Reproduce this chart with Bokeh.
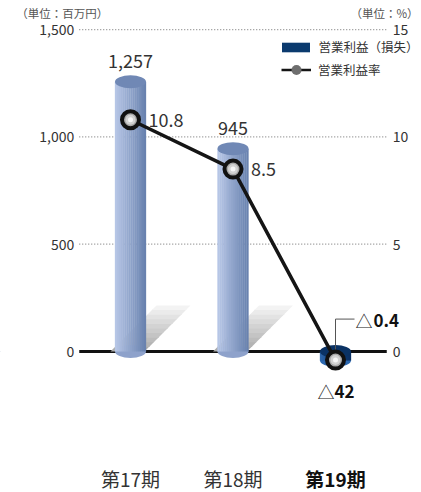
from bokeh.plotting import figure
from bokeh.models import Range1d, Legend, LegendItem
from bokeh.core.properties import value
from bokeh.embed import file_html
from bokeh.resources import INLINE

# ---------------- data ----------------
categories = ["第17期", "第18期", "第19期"]
operating_income = [1257, 945, -42]      # 百万円
operating_margin = [10.8, 8.5, -0.4]     # %
income_ticks = [0, 500, 1000, 1500]
margin_ticks = [0, 5, 10, 15]
legend_labels = ["営業利益（損失）", "営業利益率"]
unit_left = "（単位：百万円）"
unit_right = "（単位：%）"

# ---------------- layout / style ----------------
FONT = "Noto Sans CJK JP"
W, H = 421, 492
PXX = 102.5                      # px per category step
X0 = -0.5 - 78.75 / PXX
X1 = X0 + W / PXX
PXY = 107.3 / 500                # px per 百万円
ZERO_PX = 351                    # zero line, from top
Y1 = ZERO_PX / PXY
Y0 = -(H - ZERO_PX) / PXY
RATE_SCALE = 100.0
PXR = PXY * RATE_SCALE           # px per %
BAR_PX = 31
BAR_W = BAR_PX / PXX
N_SLICES = 16

idx = list(range(len(categories)))
GX0, GX1 = -0.5, len(categories) - 0.5   # plot band edges


def hex2rgb(h):
    h = h.lstrip("#")
    return tuple(int(h[i:i + 2], 16) for i in (0, 2, 4))


def lerp(c1, c2, t):
    a, b = hex2rgb(c1), hex2rgb(c2)
    return "#%02x%02x%02x" % tuple(round(a[k] + (b[k] - a[k]) * t) for k in range(3))


def grad3(c1, c2, c3, t):
    return lerp(c1, c2, t * 2) if t < 0.5 else lerp(c2, c3, (t - 0.5) * 2)


p = figure(width=W, height=H, x_range=Range1d(X0, X1), y_range=Range1d(Y0, Y1),
           output_backend="svg", toolbar_location=None,
           x_axis_location=None, y_axis_location=None,
           min_border=0, outline_line_color=None, background_fill_color="white")
p.grid.visible = False
p.extra_y_ranges = {"rate": Range1d(Y0 / RATE_SCALE, Y1 / RATE_SCALE)}

# dotted grid lines + tick labels (left: 百万円, right: %)
grid_t = [t for t in income_ticks if t != 0]
p.segment(x0=[GX0] * len(grid_t), x1=[GX1] * len(grid_t), y0=grid_t, y1=grid_t,
          line_color="#8a8a8a", line_width=1.2, line_dash="1 2")
p.text(x=[GX0] * len(income_ticks), y=income_ticks, text=[f"{t:,}" for t in income_ticks],
       x_offset=-5, text_align="right", text_baseline="middle", text_font=value(FONT),
       text_font_size="14px", text_color="#333333")
p.text(x=[GX1] * len(margin_ticks), y=margin_ticks, y_range_name="rate",
       text=[f"{t}" for t in margin_ticks], x_offset=6, text_align="left",
       text_baseline="middle", text_font=value(FONT), text_font_size="14px",
       text_color="#333333")

# zero line
p.segment(x0=[GX0], x1=[GX1], y0=[0], y1=[0], line_color="#111111", line_width=3)

# shadows behind the positive bars
SH_H = 46
N_BANDS = 10
for k in range(N_BANDS):
    h0 = SH_H * k / N_BANDS
    h1 = min(SH_H, SH_H * (k + 1) / N_BANDS + 0.8)
    xs, ys = [], []
    for i, v in zip(idx, operating_income):
        if v <= 0:
            continue
        xs.append([i + (-20 + h0) / PXX, i + (14 + h0) / PXX,
                   i + (14 + h1) / PXX, i + (-20 + h1) / PXX])
        ys.append([h0 / PXY, h0 / PXY, h1 / PXY, h1 / PXY])
    col = lerp("#acacac", "#f3f3f3", k / (N_BANDS - 1))
    p.patches(xs=xs, ys=ys, fill_color=col, line_color=None)

# lower ellipses of the cylinders
low_y = [min(0, v) for v in operating_income]
high_y = [max(0, v) for v in operating_income]
low_col = ["#8ea2cb" if v >= 0 else "#2c68b0" for v in operating_income]
high_col = ["#7088b5" if v >= 0 else "#0a3264" for v in operating_income]
p.ellipse(x=idx, y=low_y, width=BAR_W, height=13, height_units="screen",
          fill_color=low_col, line_color=None)

# cylinder bodies: horizontal gradient of thin slices
for j in range(N_SLICES):
    t = (j + 0.5) / N_SLICES
    off = -BAR_W / 2 + t * BAR_W
    cols = [lerp("#b9c8e8", "#6680ad", t) if v >= 0 else grad3("#2e66aa", "#0e3e7c", "#0a2f62", t)
            for v in operating_income]
    p.vbar(x=[i + off for i in idx], bottom=low_y, top=high_y,
           width=BAR_W / N_SLICES * 1.15, fill_color=cols, line_color=None)

# top caps
p.ellipse(x=idx, y=high_y, width=BAR_W, height=13, height_units="screen",
          fill_color=high_col, line_color=None)

# bar value labels
pos_i = [i for i, v in zip(idx, operating_income) if v >= 0]
pos_v = [v for v in operating_income if v >= 0]
p.text(x=pos_i, y=pos_v, text=[f"{v:,}" for v in pos_v], y_offset=-21,
       text_align="center", text_baseline="middle", text_font=value(FONT),
       text_font_size="18px", text_color="#333333")
neg_i = [i for i, v in zip(idx, operating_income) if v < 0]
neg_v = [v for v in operating_income if v < 0]
p.text(x=neg_i, y=neg_v, text=["△"] * len(neg_v), y_offset=31, x_offset=-1,
       text_align="right", text_baseline="middle", text_font=value(FONT),
       text_font_size="17px", text_color="#222222")
p.text(x=neg_i, y=neg_v, text=[f"{abs(v):,}" for v in neg_v], y_offset=31, x_offset=-1,
       text_align="left", text_baseline="middle", text_font=value(FONT),
       text_font_size="17px", text_font_style="bold", text_color="#111111")

# callout for a negative margin
for i, r in zip(idx, operating_margin):
    if r < 0:
        top = r + 41 / PXR
        p.line(x=[i, i, i + 19 / PXX], y=[r, top, top], y_range_name="rate",
               line_color="#555555", line_width=1)

# margin line + markers
p.line(x=idx, y=operating_margin, y_range_name="rate", line_color="#151515", line_width=3.5)
p.scatter(x=idx, y=operating_margin, y_range_name="rate", size=17, fill_color="#a9a9a9",
          line_color="#111111", line_width=4)
p.scatter(x=idx, y=operating_margin, y_range_name="rate", size=10, fill_color="#d2d2d2",
          line_color=None)
p.scatter(x=idx, y=operating_margin, y_range_name="rate", size=5, fill_color="#f6f6f6",
          line_color=None)

# margin labels
rp_i = [i for i, r in zip(idx, operating_margin) if r >= 0]
rp_v = [r for r in operating_margin if r >= 0]
p.text(x=rp_i, y=rp_v, y_range_name="rate", text=[f"{r}" for r in rp_v], x_offset=18,
       text_align="left", text_baseline="middle", text_font=value(FONT),
       text_font_size="18px", text_color="#333333")
rn_i = [i for i, r in zip(idx, operating_margin) if r < 0]
rn_v = [r for r in operating_margin if r < 0]
p.text(x=rn_i, y=rn_v, y_range_name="rate", text=["△"] * len(rn_v), x_offset=20, y_offset=-40,
       text_align="left", text_baseline="middle", text_font=value(FONT),
       text_font_size="17px", text_color="#222222")
p.text(x=rn_i, y=rn_v, y_range_name="rate", text=[f"{abs(r)}" for r in rn_v], x_offset=38,
       y_offset=-40, text_align="left", text_baseline="middle", text_font=value(FONT),
       text_font_size="17px", text_font_style="bold", text_color="#111111")

# category labels
last = len(categories) - 1
p.text(x=idx, y=[Y0] * len(idx), text=categories, y_offset=-1,
       text_align="center", text_baseline="bottom", text_font=value(FONT),
       text_font_size="19px",
       text_font_style=["bold" if i == last else "normal" for i in idx],
       text_color=["#111111" if i == last else "#333333" for i in idx])

# unit labels (top-left and top-right)
unit_y = Y1 - 12.5 / PXY
p.text(x=[GX0], y=[unit_y], text=[unit_left], x_offset=-63, text_align="left",
       text_baseline="middle", text_font=value(FONT), text_font_size="11.5px",
       text_color="#555555")
p.text(x=[X1], y=[unit_y], text=[unit_right], x_offset=-3, text_align="right",
       text_baseline="middle", text_font=value(FONT), text_font_size="11.5px",
       text_color="#555555")

# legend (dummy renderers drawn outside the visible range)
off = [X0 - 10]
bar_dummy = p.vbar(x=off, top=[1], width=0.3, fill_color="#0b3a6e", line_color=None)
line_dummy = p.line(x=off, y=[1], line_color="#151515", line_width=2.5)
dot_dummy = p.scatter(x=off, y=[1], size=10, fill_color="#6e6e6e", line_color=None)
common = dict(padding=0, margin=0, spacing=0, border_line_color=None,
              background_fill_alpha=0, label_text_font=FONT,
              label_text_font_size="12.5px", label_text_color="#333333")
leg1 = Legend(items=[LegendItem(label=legend_labels[0], renderers=[bar_dummy])],
              location=(277.5, H - 56), glyph_width=35, glyph_height=12, label_height=12,
              label_standoff=6, **common)
leg2 = Legend(items=[LegendItem(label=legend_labels[1], renderers=[line_dummy, dot_dummy])],
              location=(281, H - 81.5), glyph_width=30, glyph_height=25, label_height=25,
              label_standoff=7, **common)
p.add_layout(leg1)
p.add_layout(leg2)

open("out.html", "w").write(file_html(p, INLINE))
